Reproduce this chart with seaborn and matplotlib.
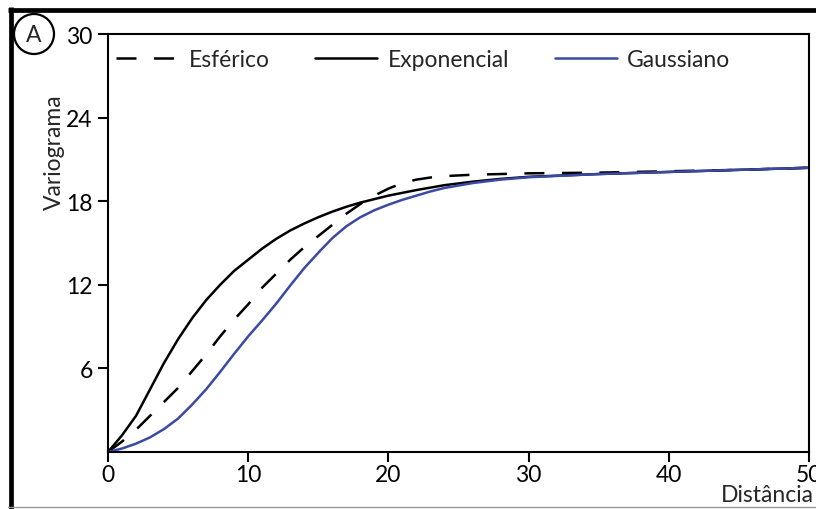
import matplotlib
matplotlib.use("Agg")
import matplotlib.pyplot as plt
from matplotlib.lines import Line2D
from matplotlib.patches import Ellipse
import pandas as pd
import seaborn as sns

# Semivariogram models: distance vs. semivariance
exp_x = [0, 1, 2, 3, 4, 5, 6, 7, 8, 9, 10, 11, 12, 13, 14, 15, 16, 17, 18, 19,
         20, 22, 24, 26, 28, 30, 35, 40, 45, 50]
exp_y = [0, 1.2, 2.6, 4.5, 6.4, 8.1, 9.6, 10.9, 12.0, 13.0, 13.8, 14.6, 15.3,
         15.9, 16.4, 16.85, 17.25, 17.6, 17.9, 18.15, 18.4, 18.8, 19.15, 19.4,
         19.6, 19.75, 19.95, 20.1, 20.25, 20.4]

sph_x = [0, 1, 2, 3, 4, 5, 6, 7, 8, 9, 10, 11, 12, 13, 14, 15, 16, 17, 18, 19,
         20, 21, 22, 23, 24, 26, 30, 35, 40, 45, 50]
sph_y = [0, 0.75, 1.6, 2.6, 3.6, 4.6, 5.8, 7.0, 8.3, 9.5, 10.6, 11.8, 12.8,
         13.8, 14.7, 15.5, 16.3, 17.1, 17.8, 18.4, 18.9, 19.3, 19.55, 19.7,
         19.8, 19.9, 20.0, 20.05, 20.15, 20.25, 20.4]

gau_x = [0, 1, 2, 3, 4, 5, 6, 7, 8, 9, 10, 11, 12, 13, 14, 15, 16, 17, 18, 19,
         20, 21, 22, 23, 24, 26, 28, 30, 35, 40, 45, 50]
gau_y = [0, 0.25, 0.6, 1.05, 1.65, 2.4, 3.4, 4.5, 5.75, 7.05, 8.3, 9.45, 10.65,
         11.95, 13.2, 14.3, 15.35, 16.2, 16.85, 17.35, 17.75, 18.1, 18.4, 18.7,
         18.95, 19.3, 19.55, 19.72, 19.95, 20.1, 20.25, 20.4]

x_ticks = [0, 10, 20, 30, 40, 50]
y_ticks = [6, 12, 18, 24, 30]

sph = pd.DataFrame({"dist": sph_x, "gamma": sph_y})
exp = pd.DataFrame({"dist": exp_x, "gamma": exp_y})
gau = pd.DataFrame({"dist": gau_x, "gamma": gau_y})

sns.set_style("ticks")
plt.rcParams["font.family"] = ["Lato", "DejaVu Sans"]
fs = 16.5

fig = plt.figure(figsize=(8.16, 5.10), dpi=100)
ax = fig.add_axes([108 / 816, 1 - 453 / 510, 701 / 816, 418 / 510])

blue = "#3a49a3"
lw = 1.8
sns.lineplot(data=sph, x="dist", y="gamma", color="black", lw=lw,
             linestyle=(0, (8, 7)), label="Esférico", ax=ax)
sns.lineplot(data=exp, x="dist", y="gamma", color="black", lw=lw,
             label="Exponencial", ax=ax)
sns.lineplot(data=gau, x="dist", y="gamma", color=blue, lw=lw,
             label="Gaussiano", ax=ax)
for ln in ax.lines:
    ln.set_solid_joinstyle("round")

ax.set_xlim(0, 50)
ax.set_ylim(0, 30)
ax.set_xticks(x_ticks)
ax.set_yticks(y_ticks)
ax.tick_params(axis="both", direction="out", length=7, width=1.5,
               labelsize=fs, colors="black")
ax.tick_params(axis="x", pad=2)
ax.tick_params(axis="y", pad=4)
for sp in ax.spines.values():
    sp.set_visible(True)
    sp.set_linewidth(1.5)
    sp.set_color("black")

ax.set_xlabel("Distância", fontsize=fs, ha="right", va="baseline")
ax.xaxis.set_label_coords(1.0071, -0.1165)
ax.set_ylabel("Variograma", fontsize=fs)
ax.yaxis.set_label_coords(-0.062, 0.72)

ax.legend(loc="upper left", bbox_to_anchor=(0.012, 0.963), ncol=3,
          frameon=False, fontsize=fs, handlelength=2.7, handletextpad=0.45,
          columnspacing=2.0, borderpad=0, borderaxespad=0)

# Panel frame and label
fig.add_artist(Line2D([8 / 816, 1.0], [1 - 10.5 / 510] * 2, color="black",
                      lw=3.4, solid_capstyle="butt"))
fig.add_artist(Line2D([10.5 / 816] * 2, [0.0, 1 - 8 / 510], color="black",
                      lw=3.4, solid_capstyle="butt"))
fig.add_artist(Line2D([8 / 816, 1.0], [1 - 508 / 510] * 2, color="#999999",
                      lw=1.0))
fig.add_artist(Ellipse((34 / 816, 1 - 35 / 510), 40 / 816, 40 / 510,
                       fill=False, edgecolor="black", lw=1.6))
fig.text(34 / 816, 1 - 35 / 510, "A", fontsize=fs, ha="center", va="center")

fig.savefig("out.png", dpi=100)
